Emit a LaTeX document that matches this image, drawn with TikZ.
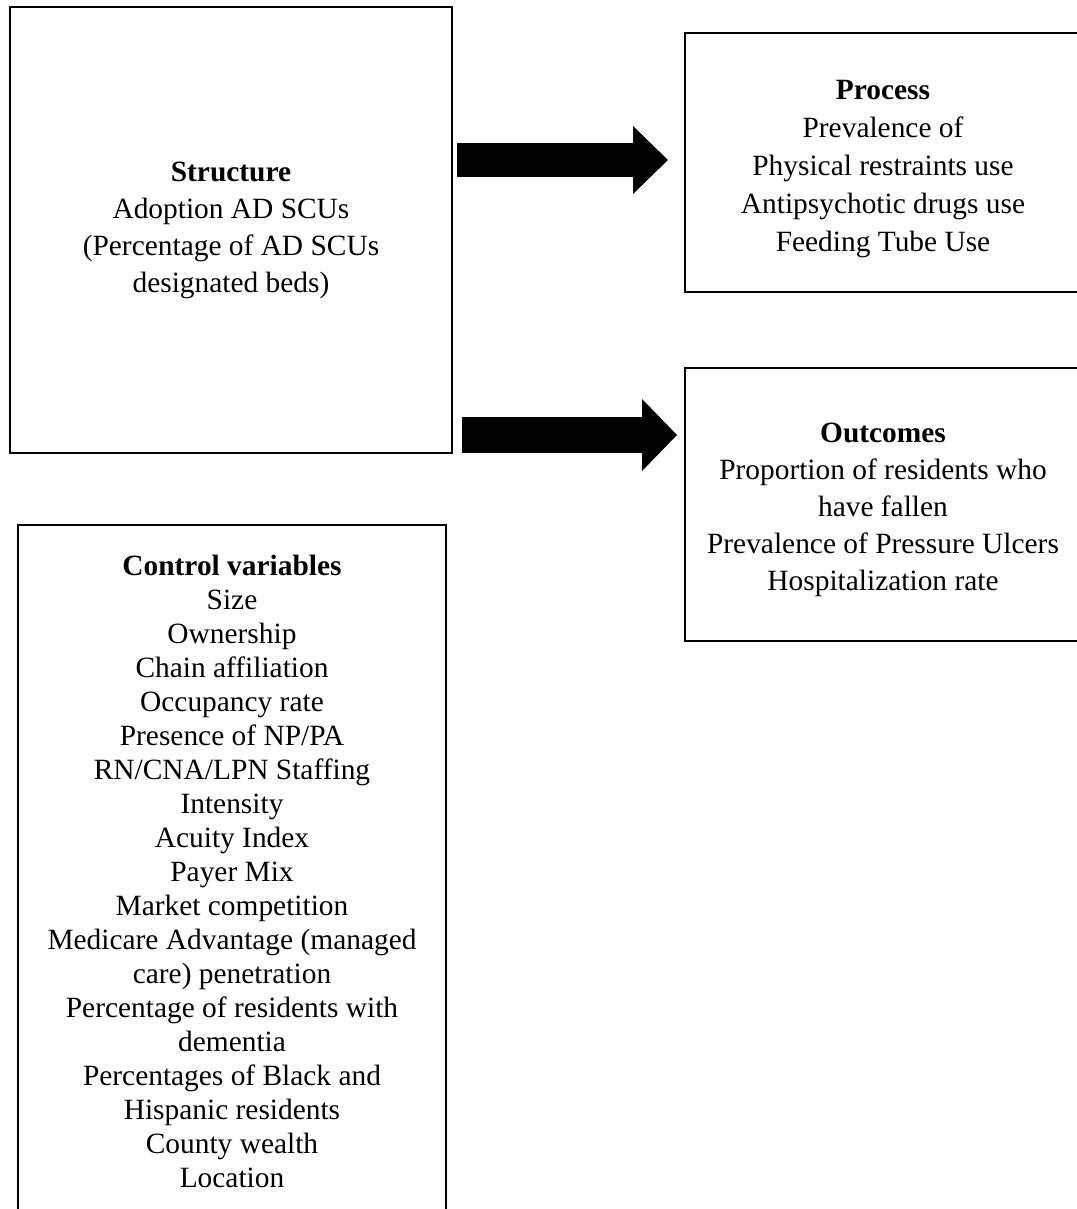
\documentclass[tikz,border=0pt]{standalone}
\usepackage{fontspec}
\setmainfont{Liberation Serif}
\usetikzlibrary{arrows.meta}

\begin{document}
\begin{tikzpicture}[x=0.5pt,y=-0.5pt,
    box/.style={draw,line width=1pt,align=center,inner sep=0pt,font=\fontsize{14.7}{18.5}\selectfont},
    blockarrow/.style={line width=#1,-{Triangle[length=17.5pt,width=2*#1,line width=0pt]}}]
    \useasboundingbox (0,0) rectangle (1076,1209);
    \node[box,minimum width=221pt,minimum height=223pt] (struct) at (231,230) {\textbf{Structure}\\Adoption AD SCUs\\(Percentage of AD SCUs\\designated beds)};
    \node[box,minimum width=198pt,minimum height=129.5pt,font=\fontsize{14.7}{19}\selectfont] (proc) at (883,162.5) {\rule{0pt}{15.7pt}\textbf{Process}\\Prevalence of\\Physical restraints use\\Antipsychotic drugs use\\Feeding Tube Use};
    \node[box,minimum width=198pt,minimum height=136.5pt] (outc) at (883,504.5) {\rule{0pt}{15.5pt}\textbf{Outcomes}\\Proportion of residents who\\have fallen\\Prevalence of Pressure Ulcers\\Hospitalization rate};
    \node[box,minimum width=214pt,minimum height=346pt,font=\fontsize{14.7}{17}\selectfont] (ctrl) at (232,871) {\textbf{Control variables}\\Size\\Ownership\\Chain affiliation\\Occupancy rate\\Presence of NP/PA\\RN/CNA/LPN Staffing\\Intensity\\Acuity Index\\Payer Mix\\Market competition\\Medicare Advantage (managed\\care) penetration\\Percentage of residents with\\dementia\\Percentages of Black and\\Hispanic residents\\County wealth\\Location};
    \coordinate (a1s) at (457,160);
    \coordinate (a1e) at (668,160);
    \coordinate (a2s) at (462,435);
    \coordinate (a2e) at (677,435);
    \draw[blockarrow=17pt] (a1s) -- (a1e);
    \draw[blockarrow=18pt] (a2s) -- (a2e);
\end{tikzpicture}
\end{document}
